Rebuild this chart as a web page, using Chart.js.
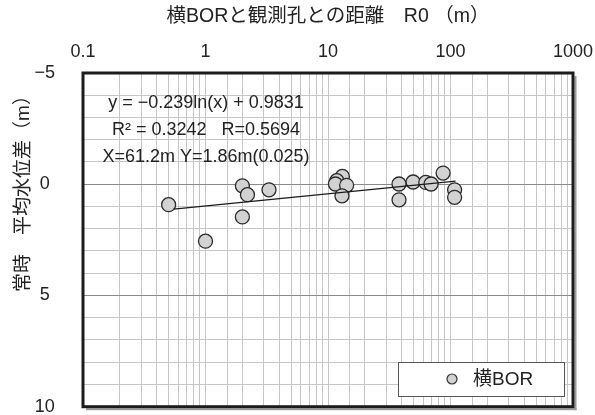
<!DOCTYPE html>
<html>
<head>
<meta charset="utf-8">
<script src="https://cdn.jsdelivr.net/npm/chart.js@4.4.1/dist/chart.umd.min.js"></script>
<style>
  html, body { margin: 0; padding: 0; background: #ffffff; }
  #wrap { width: 595px; height: 415px; position: relative; }
</style>
</head>
<body>
<div id="wrap"><canvas id="c" width="595" height="415"></canvas></div>
<script>
// ---- data ----
const seriesName = '横BOR';
const xTitle = '横BORと観測孔との距離　R0 （m）';
const yTitle = '常時　平均水位差（m）';
const xTickLabels = ['0.1', '1', '10', '100', '1000'];
const yTickLabels = ['−5', '0', '5', '10'];
const distances  = [0.5, 1.0, 2.0, 2.2, 2.0, 3.3, 13.1, 11.8, 11.5, 14.2, 13.0, 38, 38, 49.5, 62.8, 69.4, 87, 108, 108];
const levelDiffs = [0.92, 2.56, 0.07, 0.47, 1.47, 0.25, -0.35, -0.16, -0.01, 0.05, 0.52, -0.01, 0.70, -0.10, -0.08, -0.01, -0.50, 0.25, 0.59];
const trendX = [0.55, 110];
const trendY = [1.12, -0.14];
const annotationLines = ['y = −0.239ln(x) + 0.9831', 'R² = 0.3242   R=0.5694', 'X=61.2m Y=1.86m(0.025)'];

const FONT = '"Liberation Sans", Arial, "Noto Sans CJK JP", sans-serif';

const scatterPts = distances.map((x, i) => ({ x: x, y: levelDiffs[i] }));
const trendPts = trendX.map((x, i) => ({ x: x, y: trendY[i] }));

const decoPlugin = {
  id: 'deco',
  beforeDatasetsDraw(chart) {
    const { ctx, chartArea: a } = chart;
    ctx.save();
    // soft shadow on right and bottom of the frame
    ctx.fillStyle = '#9a9a9a';
    ctx.fillRect(a.right + 1.5, a.top + 3, 2, a.bottom - a.top + 0.5);
    ctx.fillRect(a.left + 3, a.bottom + 1.5, a.right - a.left + 0.5, 2);
    ctx.strokeStyle = '#1c1c1c';
    ctx.lineWidth = 3;
    ctx.strokeRect(a.left, a.top, a.right - a.left, a.bottom - a.top);
    ctx.restore();
  },
  afterDraw(chart) {
    const { ctx, chartArea: a } = chart;
    ctx.save();
    ctx.fillStyle = '#222';
    // top axis title
    ctx.font = '19.5px ' + FONT;
    ctx.textAlign = 'center';
    ctx.textBaseline = 'middle';
    ctx.fillText(xTitle, (a.left + a.right) / 2, 17);
    // y axis title (rotated)
    ctx.font = '19px ' + FONT;
    ctx.save();
    ctx.translate(24, 189);
    ctx.rotate(-Math.PI / 2);
    ctx.fillText(yTitle, 0, 0);
    ctx.restore();
    // regression annotation
    ctx.font = '18px ' + FONT;
    const cx = 206;
    const ys = [103, 130, 157];
    annotationLines.forEach((t, i) => ctx.fillText(t, cx, ys[i]));
    // legend
    const lx = 398, ly = 362, lw = 166, lh = 34;
    ctx.fillStyle = '#fff';
    ctx.fillRect(lx, ly, lw, lh);
    ctx.strokeStyle = '#555';
    ctx.lineWidth = 1;
    ctx.strokeRect(lx + 0.5, ly + 0.5, lw, lh);
    ctx.beginPath();
    ctx.arc(452, ly + lh / 2, 5, 0, Math.PI * 2);
    ctx.fillStyle = '#d2d2d2';
    ctx.fill();
    ctx.strokeStyle = '#333';
    ctx.lineWidth = 1.2;
    ctx.stroke();
    ctx.fillStyle = '#222';
    ctx.textAlign = 'left';
    ctx.font = '19px ' + FONT;
    ctx.fillText(seriesName, 473, ly + lh / 2 + 1);
    ctx.restore();
  }
};

function isDecade(v) {
  const l = Math.log10(v);
  return Math.abs(l - Math.round(l)) < 1e-9;
}

new Chart(document.getElementById('c'), {
  type: 'scatter',
  data: {
    datasets: [
      {
        label: 'trend',
        data: trendPts,
        showLine: true,
        borderColor: '#1a1a1a',
        borderWidth: 1.2,
        pointRadius: 0,
        order: 0
      },
      {
        label: seriesName,
        data: scatterPts,
        pointRadius: 7,
        pointBackgroundColor: '#d2d2d2',
        pointBorderColor: '#2a2a2a',
        pointBorderWidth: 1.3,
        order: 1
      }
    ]
  },
  plugins: [decoPlugin],
  options: {
    responsive: false,
    animation: false,
    layout: { padding: { left: 0, right: 22, top: 0, bottom: 8 } },
    plugins: { legend: { display: false }, tooltip: { enabled: false } },
    scales: {
      x: {
        type: 'logarithmic',
        position: 'top',
        min: 0.1,
        max: 1000,
        border: { display: false },
        grid: { color: '#c6c6c6', lineWidth: 1, drawTicks: true, tickLength: 10, tickColor: 'rgba(0,0,0,0)' },
        ticks: {
          autoSkip: false,
          maxRotation: 0,
          padding: 0,
          color: '#222',
          font: { family: FONT, size: 18 },
          callback: (v) => {
            if (!isDecade(v)) return '';
            const idx = Math.round(Math.log10(v)) + 1;
            return xTickLabels[idx] || '';
          }
        },
        afterFit: (s) => { s.height = 73; }
      },
      y: {
        type: 'linear',
        reverse: true,
        min: -5,
        max: 10,
        border: { display: false },
        grid: {
          drawTicks: true,
          tickLength: 28,
          tickColor: 'rgba(0,0,0,0)',
          lineWidth: 1,
          color: (c) => (c.tick && c.tick.value % 5 === 0) ? '#8a8a8a' : '#c6c6c6'
        },
        ticks: {
          stepSize: 1,
          autoSkip: false,
          crossAlign: 'center',
          padding: 0,
          color: '#222',
          font: { family: FONT, size: 18, lineHeight: 0.9 },
          callback: (v) => {
            if (v % 5 !== 0) return '';
            return yTickLabels[(v + 5) / 5];
          }
        },
        afterFit: (s) => { s.width = 83; }
      }
    }
  }
});
</script>
</body>
</html>
